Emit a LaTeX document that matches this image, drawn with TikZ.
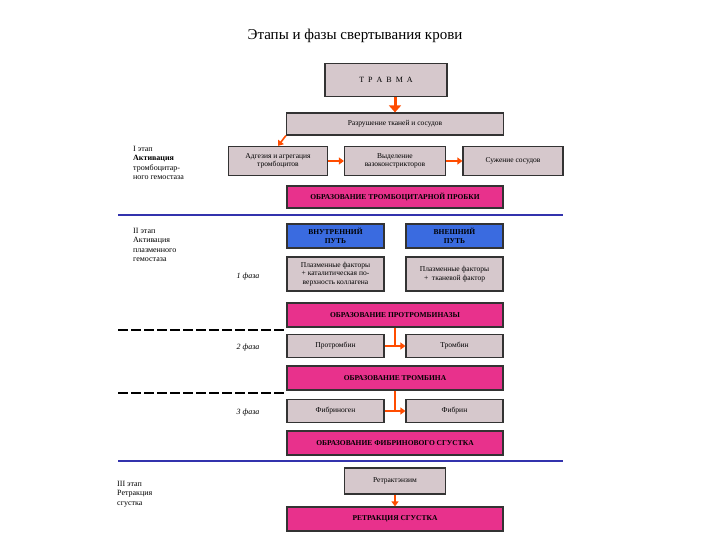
\documentclass[tikz,border=0pt]{standalone}
\usepackage{fontspec}
\setmainfont{Liberation Serif}
\usetikzlibrary{arrows.meta}
\definecolor{bluebox}{HTML}{3A6BE0}
\definecolor{graybox}{HTML}{D6C8CC}
\definecolor{pinkbox}{HTML}{E8318C}
\begin{document}
\begin{tikzpicture}[x=1pt,y=-1pt,
 box/.style={draw=black!80,line width=1.2pt,fill=#1,inner sep=1pt,align=center,font=\fontsize{7.5}{8.5}\selectfont},
 gbox/.style={box=graybox},
 pbox/.style={box=pinkbox,font=\fontsize{7.5}{8.5}\selectfont\bfseries},
 bbox/.style={box=bluebox,font=\fontsize{7.5}{8.5}\selectfont\bfseries},
 arr/.style={draw=orange!60!red,line width=1.6pt,-{Triangle[length=5pt,width=7pt]}},
 lab/.style={anchor=north west,align=left,font=\fontsize{8}{9.5}\selectfont,inner sep=0pt},
 phase/.style={font=\fontsize{8}{9}\selectfont\itshape}]
\useasboundingbox (0,0) rectangle (720,540);
\node (title) at (355,36) {\fontsize{15}{17}\selectfont Этапы и фазы свертывания крови};
\tikzset{pb/.style={pbox,minimum width=216,minimum height=24}}
\node[gbox,minimum width=122,minimum height=33,font=\fontsize{8}{9}\selectfont] (tr) at (386,80) {Т\ \ Р\ \ А\ \ В\ \ М\ \ А};
\node[gbox,minimum width=217,minimum height=22] (raz) at (395,124) {Разрушение тканей и сосудов};
\node[gbox,minimum width=99,minimum height=29] (adh) at (278,161) {Адгезия и агрегация\\тромбоцитов};
\node[gbox,minimum width=101,minimum height=29] (vyd) at (395,161) {Выделение\\вазоконстрикторов};
\node[gbox,minimum width=100,minimum height=29] (suzh) at (513,161) {Сужение сосудов};
\node[pb,minimum height=22] (prob) at (395,197) {ОБРАЗОВАНИЕ ТРОМБОЦИТАРНОЙ ПРОБКИ};
\draw[arr,line width=3pt,-{Triangle[length=7pt,width=12pt]}] (tr.south -| raz.north) -- (raz.north);
\draw[arr] (raz.south west) -- (adh.north);
\draw[arr] (adh) -- (vyd);
\draw[arr] (vyd) -- (suzh);
\coordinate (l1a) at (118,215); \coordinate (l1b) at (563,215);
\draw[blue!60!black!80,line width=1.5pt] (l1a) -- (l1b);
\node[lab] (e1) at (133,146) {I этап\\\textbf{Активация}\\тромбоцитар-\\ного гемостаза};

\node[bbox,minimum width=97,minimum height=24] (vn) at (335.5,236) {ВНУТРЕННИЙ\\ПУТЬ};
\node[bbox,minimum width=97,minimum height=24] (vnsh) at (454.5,236) {ВНЕШНИЙ\\ПУТЬ};
\node[gbox,minimum width=97,minimum height=34] (pf1) at (335.5,274) {Плазменные факторы\\+ каталитическая по-\\верхность коллагена};
\node[gbox,minimum width=97,minimum height=34] (pf2) at (454.5,274) {Плазменные факторы\\+ \ тканевой фактор};
\node[lab] (e2) at (133,228) {II этап\\Активация\\плазменного\\гемостаза};
\node[phase] (f1) at (248,277) {1 фаза};
\node[pb] (ptb) at (395,315) {ОБРАЗОВАНИЕ ПРОТРОМБИНАЗЫ};
\coordinate (d1a) at (118,330); \coordinate (d1b) at (287,330);
\draw[line width=1.2pt,dash pattern=on 10pt off 3pt] (d1a) -- (d1b);
\node[gbox,minimum width=97,minimum height=23] (pt) at (335.5,346) {Протромбин};
\node[gbox,minimum width=97,minimum height=23] (tb) at (454.5,346) {Тромбин};
\node[phase] (f2) at (248,348) {2 фаза};
\draw[arr] (pt) -- (tb);
\draw[draw=orange!60!red,line width=1.6pt] (ptb.south) -- (ptb.south |- pt);
\node[pb] (obt) at (395,378) {ОБРАЗОВАНИЕ ТРОМБИНА};
\coordinate (d2a) at (118,393); \coordinate (d2b) at (287,393);
\draw[line width=1.2pt,dash pattern=on 10pt off 3pt] (d2a) -- (d2b);
\node[gbox,minimum width=97,minimum height=23] (fg) at (335.5,411) {Фибриноген};
\node[gbox,minimum width=97,minimum height=23] (fb) at (454.5,411) {Фибрин};
\node[phase] (f3) at (248,413) {3 фаза};
\draw[arr] (fg) -- (fb);
\draw[draw=orange!60!red,line width=1.6pt] (obt.south) -- (obt.south |- fg);
\node[pb] (fs) at (395,443) {ОБРАЗОВАНИЕ ФИБРИНОВОГО СГУСТКА};
\coordinate (l2a) at (118,461); \coordinate (l2b) at (563,461);
\draw[blue!60!black!80,line width=1.5pt] (l2a) -- (l2b);
\node[gbox,minimum width=101,minimum height=26] (rz) at (395,481) {Ретрактэнзим};
\node[pb] (rs) at (395,519) {РЕТРАКЦИЯ СГУСТКА};
\draw[arr] (rz) -- (rs);
\node[lab] (e3) at (117,481) {III этап\\Ретракция\\сгустка};
\end{tikzpicture}
\end{document}
